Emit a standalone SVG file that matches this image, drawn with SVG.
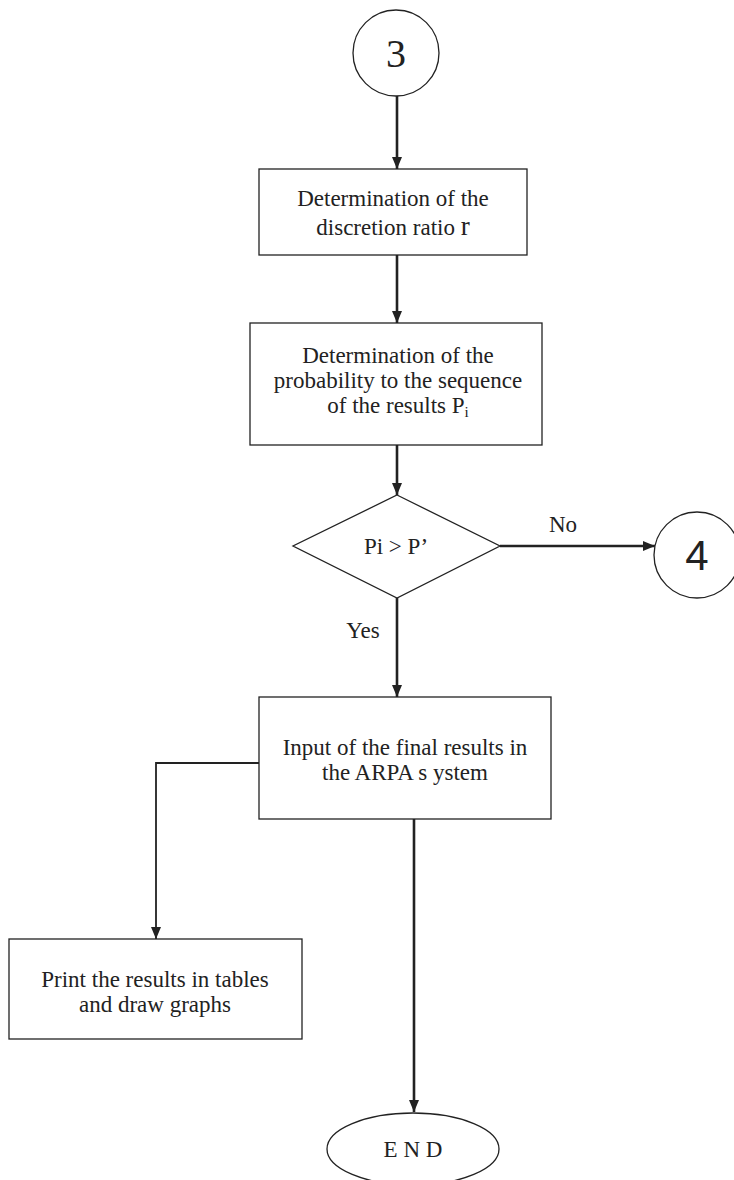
<svg xmlns="http://www.w3.org/2000/svg" width="734" height="1180" viewBox="0 0 734 1180">
<style>
.box{fill:#fff;stroke:#222;stroke-width:1.3}
.t{font-family:"Liberation Serif","Times New Roman",serif;font-size:23px;fill:#222;text-anchor:middle}
.c{fill:none;stroke:#222;stroke-width:2.6}
</style>
<defs>
<marker id="ah" markerUnits="userSpaceOnUse" markerWidth="12" markerHeight="12" viewBox="0 0 12 12" refX="12" refY="6" orient="auto">
<path d="M0,1 L12,6 L0,11 Z" fill="#222"/>
</marker>
</defs>
<rect width="734" height="1180" fill="#fff"/>
<g id="connectors">
<line class="c" x1="397" y1="96" x2="397" y2="169" marker-end="url(#ah)"/>
<line class="c" x1="397" y1="255" x2="397" y2="323" marker-end="url(#ah)"/>
<line class="c" x1="397" y1="445" x2="397" y2="495" marker-end="url(#ah)"/>
<line class="c" x1="500" y1="546" x2="655" y2="546" marker-end="url(#ah)"/>
<line class="c" x1="397" y1="598" x2="397" y2="697" marker-end="url(#ah)"/>
<polyline class="c" style="stroke-width:1.8" points="259,763 156,763 156,939" marker-end="url(#ah)"/>
<line class="c" x1="414" y1="819" x2="414" y2="1112" marker-end="url(#ah)"/>
<text class="t" x="563" y="532">No</text>
<text class="t" x="363" y="638">Yes</text>
</g>
<g id="n3">
<circle class="box" cx="396" cy="53" r="43"/>
<text class="t" x="396" y="67" style="font-size:40px">3</text>
</g>
<g id="box1">
<rect class="box" x="259" y="169" width="268" height="86"/>
<text class="t" x="393" y="206">Determination of the</text>
<text class="t" x="393" y="235">discretion ratio <tspan style="font-size:27px">r</tspan></text>
</g>
<g id="box2">
<rect class="box" x="250" y="323" width="292" height="122"/>
<text class="t" x="398" y="363">Determination of the</text>
<text class="t" x="398" y="388">probability to the sequence</text>
<text class="t" x="398" y="413">of the results P<tspan dy="4" style="font-size:15px">i</tspan></text>
</g>
<g id="decision">
<polygon class="box" points="397,495 500,546 397,598 293,546"/>
<text class="t" x="396" y="554">Pi &gt; P’</text>
</g>
<g id="n4">
<circle class="box" cx="697" cy="555" r="43"/>
<text x="697" y="570" style="font-family:'Liberation Sans',Arial,sans-serif;font-size:42px;fill:#222;text-anchor:middle">4</text>
</g>
<g id="box3">
<rect class="box" x="259" y="697" width="292" height="122"/>
<text class="t" x="405" y="755">Input of the final results in</text>
<text class="t" x="405" y="780">the ARPA s ystem</text>
</g>
<g id="box4">
<rect class="box" x="9" y="939" width="293" height="100"/>
<text class="t" x="155" y="987">Print the results in tables</text>
<text class="t" x="155" y="1012">and draw graphs</text>
</g>
<g id="end">
<ellipse class="box" cx="413" cy="1149" rx="86" ry="36"/>
<text class="t" x="413" y="1157">E N D</text>
</g>
</svg>
